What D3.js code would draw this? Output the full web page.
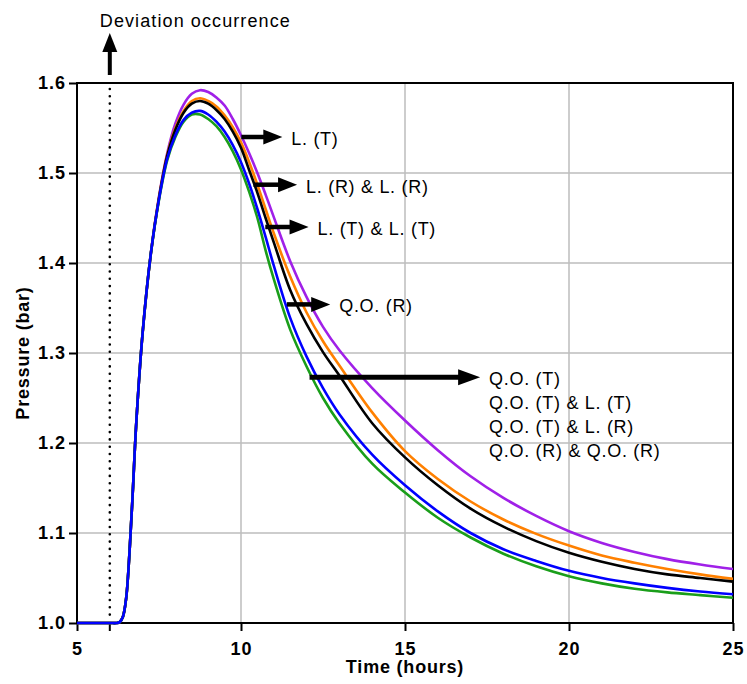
<!DOCTYPE html>
<html>
<head>
<meta charset="utf-8">
<script src="https://cdn.jsdelivr.net/npm/d3@7"></script>
<style>
  body { margin: 0; background: #fff; }
  svg { display: block; font-family: Arial, "Liberation Sans", sans-serif; }
</style>
</head>
<body>
<div id="chart"></div>
<script>
// Time axis (hours) shared by all series
const times = [5, 6, 6.2, 6.3, 6.4, 6.5, 6.6, 6.7, 6.8, 7,
  7.25, 7.5, 7.75, 8, 8.25, 8.5, 8.75, 9, 9.25, 9.5,
  9.75, 10, 10.25, 10.5, 10.75, 11, 11.5, 12, 12.5, 13,
  14, 15, 16, 17, 18, 19, 20, 21, 22, 23, 24, 25];

// Pressure (bar)
const purpleVals = [1.000, 1.000, 1.000, 1.001, 1.007, 1.028, 1.078, 1.145, 1.218, 1.322,
  1.411, 1.474, 1.522, 1.555, 1.576, 1.588, 1.592, 1.590, 1.584, 1.575,
  1.560, 1.542, 1.522, 1.500, 1.476, 1.451, 1.402, 1.362, 1.329, 1.303,
  1.261, 1.225, 1.192, 1.163, 1.139, 1.119, 1.102, 1.089, 1.079, 1.071, 1.065, 1.060];
const orangeVals = [1.000, 1.000, 1.000, 1.001, 1.007, 1.028, 1.078, 1.145, 1.218, 1.322,
  1.410, 1.473, 1.520, 1.550, 1.569, 1.580, 1.583, 1.580, 1.574, 1.564,
  1.551, 1.534, 1.512, 1.487, 1.460, 1.433, 1.385, 1.345, 1.313, 1.286,
  1.234, 1.191, 1.160, 1.135, 1.115, 1.099, 1.086, 1.075, 1.067, 1.060, 1.054, 1.049];
const blackVals = [1.000, 1.000, 1.000, 1.001, 1.007, 1.028, 1.078, 1.145, 1.218, 1.322,
  1.410, 1.472, 1.519, 1.548, 1.567, 1.577, 1.580, 1.577, 1.570, 1.560,
  1.546, 1.528, 1.503, 1.478, 1.450, 1.423, 1.370, 1.332, 1.301, 1.275,
  1.222, 1.184, 1.153, 1.127, 1.107, 1.091, 1.078, 1.068, 1.060, 1.054, 1.050, 1.046];
const greenVals = [1.000, 1.000, 1.000, 1.001, 1.007, 1.028, 1.078, 1.145, 1.218, 1.322,
  1.410, 1.470, 1.514, 1.540, 1.557, 1.565, 1.565, 1.560, 1.552, 1.540,
  1.524, 1.504, 1.479, 1.450, 1.414, 1.382, 1.326, 1.285, 1.250, 1.222,
  1.177, 1.145, 1.117, 1.095, 1.077, 1.063, 1.052, 1.044, 1.038, 1.034, 1.031, 1.028];
const blueVals = [1.000, 1.000, 1.000, 1.001, 1.007, 1.028, 1.078, 1.145, 1.218, 1.322,
  1.410, 1.471, 1.516, 1.542, 1.559, 1.567, 1.569, 1.565, 1.557, 1.546,
  1.531, 1.512, 1.488, 1.460, 1.429, 1.397, 1.339, 1.296, 1.261, 1.232,
  1.187, 1.153, 1.124, 1.100, 1.082, 1.069, 1.058, 1.050, 1.044, 1.039, 1.035, 1.032];

// drawing order: blue ends up on top, as in the picture
const seriesVals = [purpleVals, orangeVals, blackVals, greenVals, blueVals];
const seriesColors = ["#a020e8", "#ff8000", "#000000", "#1a9e1a", "#0000ff"];

// Tick labels
const xTicks = [5, 10, 15, 20, 25];
const yTicks = [1.0, 1.1, 1.2, 1.3, 1.4, 1.5, 1.6];

// Deviation time and the arrow annotations (hours / bar)
const deviationTime = 6;
const noteLabels = [["L. (T)"], ["L. (R) & L. (R)"], ["L. (T) & L. (T)"], ["Q.O. (R)"],
  ["Q.O. (T)", "Q.O. (T) & L. (T)", "Q.O. (T) & L. (R)", "Q.O. (R) & Q.O. (R)"]];
const noteFrom = [10.01, 10.38, 10.74, 11.40, 12.09];
const noteTo = [11.26, 11.71, 12.06, 12.72, 17.29];
const noteY = [1.540, 1.487, 1.440, 1.354, 1.273];

const width = 747, height = 684;
const margin = { top: 83, right: 14, bottom: 61, left: 77 };
const innerW = width - margin.left - margin.right;
const innerH = height - margin.top - margin.bottom;

const svg = d3.select("#chart").append("svg")
  .attr("width", width)
  .attr("height", height);

const g = svg.append("g").attr("transform", `translate(${margin.left},${margin.top})`);

const x = d3.scaleLinear().domain([5, 25]).range([0, innerW]);
const y = d3.scaleLinear().domain([1.0, 1.6]).range([innerH, 0]);

// Grid lines
g.append("g").selectAll("line.gx")
  .data(xTicks.slice(1, -1))
  .join("line")
  .attr("x1", d => x(d)).attr("x2", d => x(d))
  .attr("y1", 0).attr("y2", innerH)
  .attr("stroke", "#bdbdbd").attr("stroke-width", 1.5);

g.append("g").selectAll("line.gy")
  .data(yTicks.slice(1, -1))
  .join("line")
  .attr("x1", 0).attr("x2", innerW)
  .attr("y1", d => y(d)).attr("y2", d => y(d))
  .attr("stroke", "#bdbdbd").attr("stroke-width", 1.5);

// Axes
const xAxis = g.append("g")
  .attr("transform", `translate(0,${innerH})`)
  .call(d3.axisBottom(x).tickValues(xTicks).tickSize(8).tickPadding(11).tickFormat(d3.format("d")));
const yAxis = g.append("g")
  .call(d3.axisLeft(y).tickValues(yTicks).tickSize(8).tickPadding(3).tickFormat(d3.format(".1f")));

[xAxis, yAxis].forEach(a => {
  a.select(".domain").remove();
  a.selectAll(".tick line").attr("stroke", "#000").attr("stroke-width", 2);
  a.selectAll(".tick text")
    .attr("fill", "#000")
    .style("font-size", "18px")
    .style("font-weight", "bold")
    .style("letter-spacing", "1px")
    .style("font-family", "Arial, 'Liberation Sans', sans-serif");
});

// Frame
g.append("rect")
  .attr("x", 0).attr("y", 0)
  .attr("width", innerW).attr("height", innerH)
  .attr("fill", "none")
  .attr("stroke", "#000").attr("stroke-width", 2);

// Deviation marker: dotted line, tick and arrow
const dx = x(deviationTime);
g.append("line")
  .attr("x1", dx).attr("x2", dx)
  .attr("y1", 6).attr("y2", innerH - 4)
  .attr("stroke", "#000").attr("stroke-width", 2.6)
  .attr("stroke-linecap", "round")
  .attr("stroke-dasharray", "0,7.3");
g.append("line")
  .attr("x1", dx).attr("x2", dx)
  .attr("y1", innerH).attr("y2", innerH + 8)
  .attr("stroke", "#000").attr("stroke-width", 2);
g.append("line")
  .attr("x1", dx).attr("x2", dx)
  .attr("y1", -8).attr("y2", -32)
  .attr("stroke", "#000").attr("stroke-width", 4);
g.append("path")
  .attr("d", `M${dx - 7.5},${-31} L${dx + 7.5},${-31} L${dx},${-50} Z`)
  .attr("fill", "#000");
g.append("text")
  .attr("x", dx - 10).attr("y", -56)
  .style("font-size", "18px")
  .style("letter-spacing", "1.1px")
  .text("Deviation occurrence");

// Curves
const line = d3.line()
  .x((d, i) => x(times[i]))
  .y(d => y(d))
  .curve(d3.curveCatmullRom.alpha(0.5));

seriesVals.forEach((vals, i) => {
  g.append("path")
    .datum(vals)
    .attr("d", line)
    .attr("fill", "none")
    .attr("stroke", seriesColors[i])
    .attr("stroke-width", 2.6);
});

// Arrow annotations
noteLabels.forEach((lines, i) => {
  const x1 = x(noteFrom[i]), x2 = x(noteTo[i]), yy = y(noteY[i]);
  const big = lines.length > 1;
  const headL = big ? 22 : 19, headH = big ? 8 : 7.5;
  g.append("line")
    .attr("x1", x1).attr("x2", x2 - headL + 1)
    .attr("y1", yy).attr("y2", yy)
    .attr("stroke", "#000").attr("stroke-width", big ? 5 : 4.5);
  g.append("path")
    .attr("d", `M${x2 - headL},${yy - headH} L${x2},${yy} L${x2 - headL},${yy + headH} Z`)
    .attr("fill", "#000");
  const t = g.append("text")
    .attr("x", x2 + 9)
    .attr("y", yy + 8)
    .style("font-size", "18px")
    .style("letter-spacing", "0.7px");
  lines.forEach((s, k) => {
    t.append("tspan").attr("x", x2 + 9).attr("dy", k === 0 ? 0 : 24).text(s);
  });
});

// Axis titles
svg.append("text")
  .attr("x", margin.left + innerW / 2)
  .attr("y", height - 11)
  .attr("text-anchor", "middle")
  .style("font-size", "18px")
  .style("font-weight", "bold")
  .style("letter-spacing", "0.8px")
  .text("Time (hours)");

svg.append("text")
  .attr("transform", `translate(29,${margin.top + innerH / 2}) rotate(-90)`)
  .attr("text-anchor", "middle")
  .style("font-size", "18px")
  .style("font-weight", "bold")
  .style("letter-spacing", "0.8px")
  .text("Pressure (bar)");
</script>
</body>
</html>
